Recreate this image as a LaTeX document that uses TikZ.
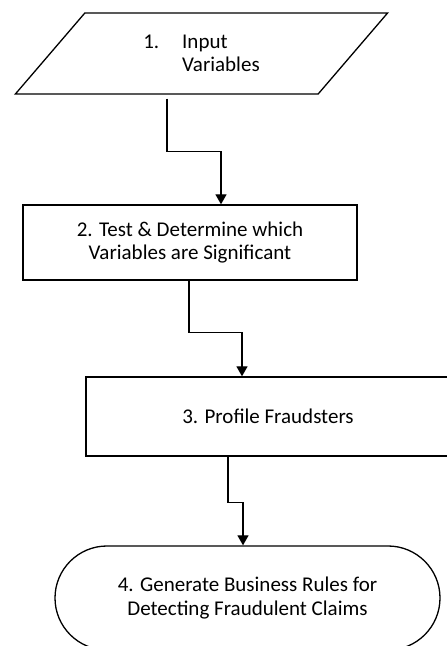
\documentclass[tikz,border=0pt]{standalone}
\usepackage{fontspec}
\setmainfont{Carlito}
\usetikzlibrary{shapes.geometric,arrows.meta}

\begin{document}
\begin{tikzpicture}[x=1pt, y=1pt,
		mybox/.style={draw, align=center, line width = 1.3pt, font=\fontsize{21}{23.5}\selectfont},
		myarrow/.style={-{Triangle[width=11pt,length=10pt]}, line width = 1.3pt}
	]

	\useasboundingbox (0,0) rectangle (447,646);

	\node[mybox, align=left, trapezium, trapezium left angle=47, trapezium right angle=133, trapezium stretches=true, minimum width=373pt, minimum height=81pt, inner sep=0pt] (input) at (201.5,592.5) {1.\hspace{23pt}Input\\\hphantom{1.}\hspace{23pt}Variables};

	\node[mybox, minimum width=334pt, minimum height=75pt] (test) at (190,403.5) {2. Test \& Determine which\\Variables are Significant};

	\node[mybox, minimum width=364pt, minimum height=79pt] (profile) at (268,229.5) {3. Profile Fraudsters};

	\node[mybox, rounded corners=52pt, minimum width=385pt, minimum height=104pt] (rules) at (247.5,48) {4. Generate Business Rules for\\Detecting Fraudulent Claims};

	\draw[myarrow] ([shift={(-34.5pt,-4pt)}]input.south) -- ++(0,-53) -| ([xshift=31pt]test.north);
	\draw[myarrow] ([xshift=-1pt]test.south) -- ++(0,-52) -| ([xshift=-26pt]profile.north);
	\draw[myarrow] ([xshift=-40pt]profile.south) -- ++(0,-46) -| ([xshift=-4.5pt]rules.north);
\end{tikzpicture}
\end{document}
